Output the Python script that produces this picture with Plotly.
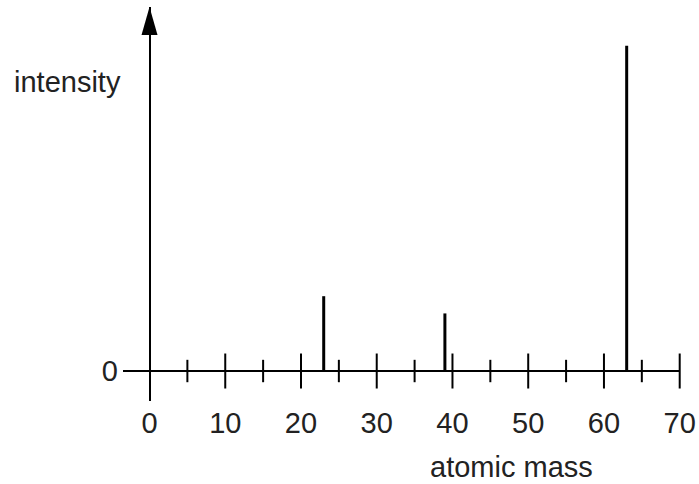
import plotly.graph_objects as go

# data
masses = [23, 39, 63]
intensities = [23, 17.7, 100]
major_ticks = [10, 20, 30, 40, 50, 60, 70]
minor_ticks = [5, 15, 25, 35, 45, 55, 65]
x_tick_labels = [0, 10, 20, 30, 40, 50, 60, 70]

W, H = 699, 484
L, R, T, B = 123, 19, 7, 83
x_range = [-3.5, 70.04]
y_range = [-9.22, 111.9]

stem_x, stem_y = [], []
for m, v in zip(masses, intensities):
    stem_x += [m, m, None]
    stem_y += [0, v, None]

fig = go.Figure()
fig.add_trace(go.Scatter(x=stem_x, y=stem_y, mode="lines",
                         line=dict(color="black", width=3), hoverinfo="skip"))
fig.add_trace(go.Scatter(x=major_ticks, y=[0] * len(major_ticks), mode="markers",
                         marker=dict(symbol="line-ns", size=25,
                                     line=dict(color="black", width=2)),
                         cliponaxis=False, hoverinfo="skip"))
fig.add_trace(go.Scatter(x=minor_ticks, y=[0] * len(minor_ticks), mode="markers",
                         marker=dict(symbol="line-ns", size=16,
                                     line=dict(color="black", width=2)),
                         cliponaxis=False, hoverinfo="skip"))

# arrowhead on the vertical axis
fig.add_shape(type="path", xref="x", yref="y", xsizemode="pixel", ysizemode="pixel",
              xanchor=0, yanchor=y_range[1],
              path="M-8,-28 L8,-28 L0,0 Z", fillcolor="black",
              line=dict(color="black", width=0), layer="above")

font = dict(family="Liberation Sans, Arial, Helvetica, sans-serif", size=29, color="#222")

pw, ph = W - L - R, H - T - B
fig.add_annotation(text="intensity", xref="paper", yref="paper",
                   x=(67 - L) / pw, y=(H - B - 82) / ph,
                   xanchor="center", yanchor="middle", showarrow=False, font=font)
fig.add_annotation(text="atomic mass", xref="paper", yref="paper",
                   x=(511 - L) / pw, y=(H - B - 467) / ph,
                   xanchor="center", yanchor="middle", showarrow=False, font=font)

fig.update_layout(
    width=W, height=H, margin=dict(l=L, r=R, t=T, b=B, autoexpand=False),
    paper_bgcolor="white", plot_bgcolor="white", showlegend=False,
    font=font, hovermode=False,
    xaxis=dict(range=x_range, showgrid=False, zeroline=True, zerolinecolor="black",
               zerolinewidth=2, showline=False, ticks="", tickvals=x_tick_labels,
               ticktext=[str(v) for v in x_tick_labels], tickfont=font,
               ticklabelstandoff=2, automargin=False),
    yaxis=dict(range=y_range, showgrid=False, zeroline=True, zerolinecolor="black",
               zerolinewidth=2, showline=False, ticks="", tickvals=[0],
               ticktext=["0"], tickfont=font, ticklabelstandoff=4, automargin=False),
)

fig.write_html("out.html", config={"displayModeBar": False},
               post_script="document.body.style.margin='0';document.body.style.overflow='hidden';")
